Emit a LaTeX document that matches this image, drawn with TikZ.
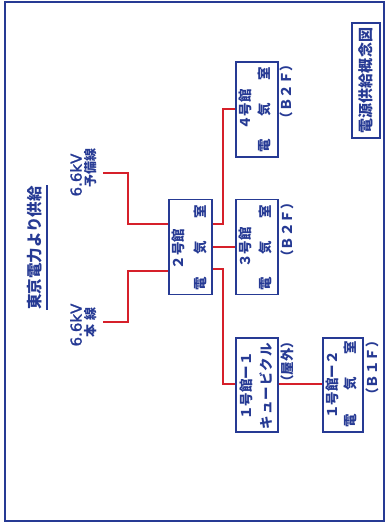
\documentclass[tikz,border=0pt]{standalone}
\usepackage{fontspec}
\newfontfamily\jp{Noto Sans CJK JP}
\newfontfamily\lat[FakeBold=1.5]{DejaVu Sans}
\definecolor{bl}{RGB}{38,58,148}
\definecolor{rd}{RGB}{214,32,42}
\tikzset{
  room/.style={draw=bl, line width=1.8pt, inner sep=0pt},
  wire/.style={draw=rd, line width=1.7pt},
  vt/.style={rotate=90, text=bl, inner sep=0pt, font=\jp\bfseries\fontsize{13.5}{15}\selectfont},
  vsmall/.style={vt, font=\jp\bfseries\fontsize{13}{14}\selectfont},
  vkv/.style={rotate=90, text=bl, inner sep=0pt, font=\lat\fontsize{15}{17}\selectfont},
}
\begin{document}
\begin{tikzpicture}[x=1pt,y=-1pt]
\useasboundingbox (0,0) rectangle (387,532);
% outer frame
\draw[bl, line width=1.6pt] (5,2) rectangle (384,521);

% title
\node[vt, draw=bl, line width=1.5pt, minimum width=115pt, minimum height=28pt,
      font=\jp\bfseries\fontsize{15}{17}\selectfont] (title) at (366,80.5) {電源供給概念図};

% supply label
\node[vt, font=\jp\bfseries\fontsize{15.5}{17}\selectfont] (tepco) at (35,248) {東京電力より供給};
\coordinate (u1) at (47,185);
\coordinate (u2) at (47,310);
\draw[bl, line width=1.5pt] (u1) -- (u2);

\node[vkv] (kv1) at (76,175) {6.6kV};
\node[vsmall] (yobi) at (91,168) {予備線};
\node[vkv] (kv2) at (76,325) {6.6kV};
\node[vsmall] (hon) at (91,322) {\makebox[30pt]{本\hfill 線}};

% rooms
\node[room, minimum width=43pt, minimum height=95pt] (b2) at (190.5,247) {};
\node[room, minimum width=42pt, minimum height=95pt] (b3) at (257,247) {};
\node[room, minimum width=42pt, minimum height=95pt] (b4) at (257,109.5) {};
\node[room, minimum width=42pt, minimum height=94pt] (b11) at (257,385) {};
\node[room, minimum width=40pt, minimum height=94pt] (b12) at (343,385) {};

% room texts
\node[vt] (t2a) at (178,249) {２号館};
\node[vt] (t2b) at (200,247.5) {\makebox[85pt]{電\hfill 気\hfill 室}};

\node[vt] (t3a) at (245,247.5) {３号館};
\node[vt] (t3b) at (265,247.5) {\makebox[85pt]{電\hfill 気\hfill 室}};
\node[vt] (t3c) at (287,230) {（Ｂ２Ｆ）};

\node[vt] (t4a) at (245,109.5) {４号館};
\node[vt] (t4b) at (264,109.5) {\makebox[85pt]{電\hfill 気\hfill 室}};
\node[vt] (t4c) at (286,91.5) {（Ｂ２Ｆ）};

\node[vt] (t11a) at (246,386) {１号館ー１};
\node[vt] (t11b) at (266,386) {\makebox[86pt]{キ\hfill ュ\hfill ー\hfill ビ\hfill ク\hfill ル}};
\node[vt] (t11c) at (287,361.5) {（屋外）};

\node[vt] (t12a) at (332,385) {１号館ー２};
\node[vt] (t12b) at (350,384) {\makebox[86pt]{電\hfill 気\hfill 室}};
\node[vt] (t12c) at (372,368) {（Ｂ１Ｆ）};

% wires
\coordinate (w1) at (103,173);
\coordinate (w2) at (103,322);
\draw[wire] (w1) -- (128,173) -- (128,224) -- ([yshift=23pt]b2.west);
\draw[wire] (w2) -- (128,322) -- (128,271) -- ([yshift=-24pt]b2.west);
\draw[wire] ([yshift=23pt]b2.east) -- (223,224) -- (223,109) -- (b4.west |- 223,109);
\draw[wire] (b2.east) -- (b3.west);
\draw[wire] ([yshift=-22pt]b2.east) -- (223,269) -- (223,384) -- (b11.west |- 223,384);
\draw[wire] (b11.east |- 223,384) -- (b12.west |- 223,384);
\end{tikzpicture}
\end{document}
